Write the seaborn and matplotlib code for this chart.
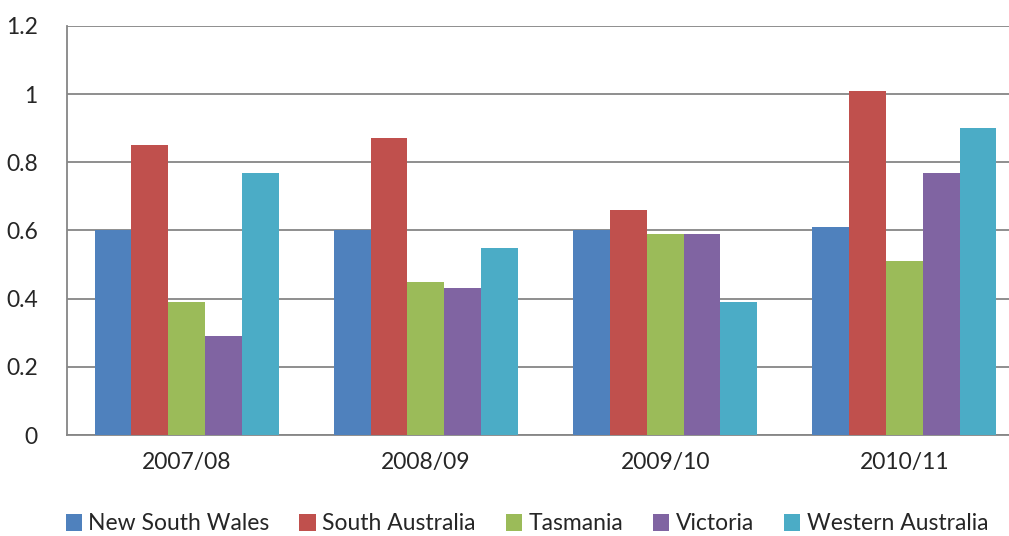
import matplotlib
matplotlib.use("Agg")
import matplotlib.pyplot as plt
import seaborn as sns
import pandas as pd
from matplotlib.ticker import FixedLocator

years = ["2007/08", "2008/09", "2009/10", "2010/11"]
states = ["New South Wales", "South Australia", "Tasmania", "Victoria", "Western Australia"]
nsw = [0.60, 0.60, 0.60, 0.61]
sa = [0.85, 0.87, 0.66, 1.01]
tas = [0.39, 0.45, 0.59, 0.51]
vic = [0.29, 0.43, 0.59, 0.77]
wa = [0.77, 0.55, 0.39, 0.90]
colors = ["#4F81BD", "#C0504D", "#9BBB59", "#8064A2", "#4BACC6"]

rows = []
for state, vals in zip(states, [nsw, sa, tas, vic, wa]):
    for y, v in zip(years, vals):
        rows.append({"year": y, "state": state, "value": v})
df = pd.DataFrame(rows)

sns.set_style("white")
plt.rcParams["font.family"] = ["Lato", "DejaVu Sans"]

fig = plt.figure(figsize=(10.09, 5.36), dpi=100)
ax = fig.add_axes([67 / 1009, 1 - 435 / 536, (1024 - 67) / 1009, (435 - 26) / 536])

sns.barplot(data=df, x="year", y="value", hue="state", order=years, hue_order=states,
            palette=colors, width=0.77, saturation=1, ax=ax, errorbar=None,
            edgecolor="none", linewidth=0, zorder=3)

ax.set_ylim(0, 1.2)
ax.set_xlim(-0.5, 3.5)
ax.set_yticks([0, 0.2, 0.4, 0.6, 0.8, 1.0, 1.2])
ax.set_yticklabels(["0", "0.2", "0.4", "0.6", "0.8", "1", "1.2"])
ax.yaxis.grid(True, color="#868686", linewidth=1.3, zorder=0)
ax.set_axisbelow(True)
ax.set_xlabel("")
ax.set_ylabel("")

for s in ["top", "right"]:
    ax.spines[s].set_visible(False)
for s in ["left", "bottom"]:
    ax.spines[s].set_color("#868686")
    ax.spines[s].set_linewidth(1.3)

ax.tick_params(axis="y", length=7, width=1.3, color="#868686", labelsize=16.5, pad=14)
ax.tick_params(axis="x", which="major", length=0, labelsize=16.5, pad=12)
ax.xaxis.set_minor_locator(FixedLocator([-0.5, 0.5, 1.5, 2.5, 3.5]))
ax.tick_params(axis="x", which="minor", length=7, width=1.3, color="#868686")

ax.legend(loc="center", bbox_to_anchor=((527 - 67) / (1024 - 67), (435 - 524) / 409),
          ncol=5, frameon=False, fontsize=16.5, handlelength=0.7, handleheight=0.7,
          handletextpad=0.3, columnspacing=1.3, borderaxespad=0)

fig.savefig("out.png", dpi=100)
